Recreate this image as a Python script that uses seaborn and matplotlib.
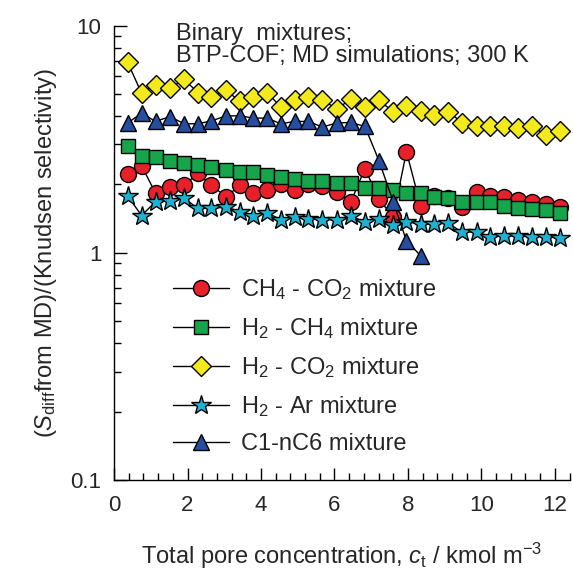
import numpy as np
import pandas as pd
import matplotlib
matplotlib.use("Agg")
import matplotlib.pyplot as plt
import seaborn as sns

# loadings (kmol m^-3)
x_main = [0.37, 0.75, 1.13, 1.52, 1.91, 2.28, 2.65, 3.05, 3.43, 3.79, 4.17, 4.54,
          4.92, 5.29, 5.67, 6.06, 6.45, 6.83, 7.21, 7.6, 7.96, 8.35, 8.72, 9.1,
          9.48, 9.87, 10.23, 10.62, 11.0, 11.39, 11.75, 12.14]
x_c1nc6 = x_main[:22]

ch4_co2 = [2.23, 2.42, 1.83, 1.95, 1.98, 2.24, 1.98, 1.77, 1.98, 1.83, 1.89, 2.01,
           1.89, 2.0, 1.96, 1.86, 1.68, 2.35, 1.72, 1.44, 2.79, 1.6, 1.78, 1.75,
           1.59, 1.86, 1.78, 1.76, 1.71, 1.68, 1.64, 1.59]
h2_ch4 = [2.96, 2.67, 2.65, 2.54, 2.48, 2.44, 2.39, 2.32, 2.26, 2.26, 2.21, 2.15,
          2.11, 2.08, 2.08, 2.03, 2.03, 1.93, 1.93, 1.89, 1.84, 1.84, 1.77, 1.74,
          1.68, 1.68, 1.68, 1.61, 1.57, 1.56, 1.55, 1.5]
h2_co2 = [6.9, 5.05, 5.5, 5.3, 5.8, 5.08, 4.85, 5.2, 4.64, 4.85, 5.08, 4.38,
          4.72, 4.85, 4.72, 4.3, 4.75, 4.38, 4.69, 4.19, 4.44, 4.23, 4.05, 4.19,
          3.73, 3.63, 3.6, 3.6, 3.54, 3.6, 3.31, 3.45]
h2_ar = [1.78, 1.46, 1.68, 1.69, 1.74, 1.57, 1.57, 1.59, 1.52, 1.46, 1.5, 1.4,
         1.44, 1.41, 1.4, 1.4, 1.46, 1.36, 1.41, 1.33, 1.37, 1.34, 1.34, 1.35,
         1.23, 1.24, 1.18, 1.19, 1.19, 1.18, 1.18, 1.16]
c1_nc6 = [3.73, 4.12, 3.79, 3.98, 3.7, 3.7, 3.81, 4.01, 4.01, 3.92, 3.92, 3.7,
          3.79, 3.79, 3.58, 3.73, 3.75, 3.6, 2.55, 1.68, 1.13, 0.97]

labels = [r"CH$_4$ - CO$_2$ mixture", r"H$_2$ - CH$_4$ mixture",
          r"H$_2$ - CO$_2$ mixture", r"H$_2$ - Ar mixture", "C1-nC6 mixture"]

series = [
    (x_main, ch4_co2, "o", "#e8202a", 11.5),
    (x_main, h2_ch4, "s", "#17a54b", 10),
    (x_main, h2_co2, "D", "#f2ea1c", 9.8),
    (x_main, h2_ar, "*", "#1bb3d4", 14.5),
    (x_c1nc6, c1_nc6, "^", "#264ea0", 11.5),
]

sns.set_theme(style="white")
plt.rcParams["font.family"] = ["Liberation Sans", "DejaVu Sans"]
plt.rcParams["mathtext.fontset"] = "custom"
plt.rcParams["mathtext.rm"] = "Liberation Sans"
plt.rcParams["mathtext.it"] = "Liberation Sans:italic"

fig = plt.figure(figsize=(5.73, 5.72), dpi=100)
ax = fig.add_axes([0.199, 0.161, 0.795, 0.794])

for (xs, ys, mk, col, ms), lab in zip(series, labels):
    df = pd.DataFrame({"c": xs, "s": ys})
    sns.lineplot(data=df, x="c", y="s", ax=ax, color="black", lw=1,
                 marker=mk, markersize=ms, markerfacecolor=col,
                 markeredgecolor="black", markeredgewidth=1, label=lab,
                 estimator=None, sort=False)

ax.set_yscale("log")
ax.set_ylim(0.1, 10)
ax.set_xlim(0, 12.4)
ax.set_xticks([0, 2, 4, 6, 8, 10, 12])
ax.set_xticks(np.arange(0, 12.5, 0.4), minor=True)
ax.set_yticks([0.1, 1, 10])
ax.set_yticklabels(["0.1", "1", "10"])
ax.tick_params(axis="both", which="both", direction="in", labelsize=16,
               color="black", width=1, left=True, bottom=True)
ax.tick_params(axis="x", which="major", length=9, pad=11)
ax.tick_params(axis="y", which="major", length=9, pad=9)
ax.tick_params(axis="both", which="minor", length=5)

for side in ["top", "right"]:
    ax.spines[side].set_visible(False)
for side in ["left", "bottom"]:
    ax.spines[side].set_color("black")
    ax.spines[side].set_linewidth(1)

ax.set_xlabel(r"Total pore concentration, $c_{\rm t}$ / kmol m$^{-3}$",
              fontsize=17, labelpad=18)
ax.set_ylabel(r"($S_{\rm diff}$from MD)/(Knudsen selectivity)", fontsize=17,
              labelpad=8)

ax.text(0.136, 0.969, "Binary  mixtures;", transform=ax.transAxes,
        fontsize=17, va="baseline", ha="left")
ax.text(0.136, 0.921, "BTP-COF; MD simulations; 300 K", transform=ax.transAxes,
        fontsize=17, va="baseline", ha="left")

ax.legend(loc="upper left", bbox_to_anchor=(0.13, 0.447), frameon=False,
          fontsize=17, handlelength=2.35, handletextpad=0.5,
          labelspacing=0.6, borderaxespad=0, borderpad=0)

fig.savefig("out.png", dpi=100)
